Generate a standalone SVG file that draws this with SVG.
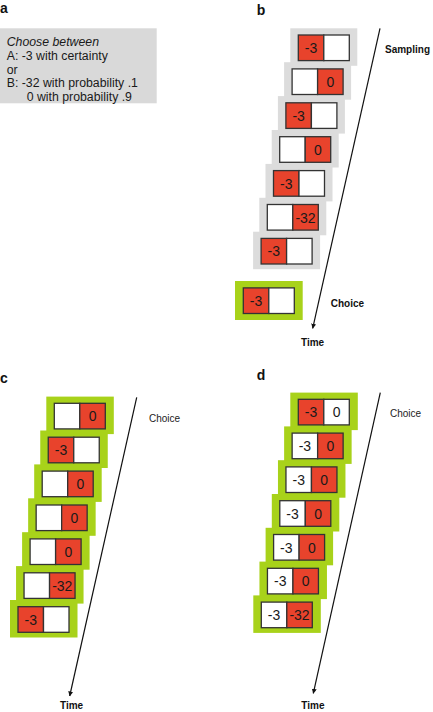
<svg xmlns="http://www.w3.org/2000/svg" width="433" height="712" viewBox="0 0 433 712">
<style>
.bgw{fill:#ffffff}
.plab{font-family:"Liberation Sans",Arial,sans-serif;font-weight:bold;font-size:14px;fill:#111}
.txt{font-family:"Liberation Sans",Arial,sans-serif;font-size:12.3px;fill:#1a1a1a}
.lbl{font-family:"Liberation Sans",Arial,sans-serif;font-size:10px;fill:#222}
.lblb{font-family:"Liberation Sans",Arial,sans-serif;font-size:10px;font-weight:bold;fill:#111}
.gray{fill:#dcdcdc}
.green{fill:#a8d21a}
.cell{stroke:#333;stroke-width:1.3}
.red{fill:#e8432c}
.wht{fill:#ffffff}
.num{font-family:"Liberation Sans",Arial,sans-serif;font-size:14px;fill:#1a1a1a;text-anchor:middle}
.axis{stroke:#111;stroke-width:1.2;fill:none}
</style>
<defs>
<marker id="arr" viewBox="0 0 10 10" refX="9" refY="5" markerWidth="5" markerHeight="5" orient="auto" markerUnits="userSpaceOnUse">
<path d="M0,0 L10,5 L0,10 Z" fill="#111"/>
</marker>
</defs>
<rect class="bgw" x="0" y="0" width="433" height="712"/>

<!-- Panel a -->
<g id="panel-a">
<text class="plab" x="0" y="13">a</text>
<rect x="0" y="28.3" width="156.7" height="75" fill="#d9d9d9"/>
<text class="txt" x="6.7" y="45.5" font-style="italic">Choose between</text>
<text class="txt" x="6.7" y="60">A: -3 with certainty</text>
<text class="txt" x="6.7" y="74">or</text>
<text class="txt" x="6.7" y="87.3">B: -32 with probability .1</text>
<text class="txt" x="26.7" y="100.5">0 with probability .9</text>
</g>

<!-- Panel labels and axis texts -->
<text class="plab" x="256.7" y="15">b</text>
<text class="plab" x="0" y="383">c</text>
<text class="plab" x="256.7" y="379.5">d</text>

<g id="connectors">
<line class="axis" x1="380" y1="28.3" x2="312.7" y2="328.3" marker-end="url(#arr)"/>
<line class="axis" x1="136.7" y1="397.3" x2="69.7" y2="696" marker-end="url(#arr)"/>
<line class="axis" x1="380.3" y1="392.7" x2="313.3" y2="693.3" marker-end="url(#arr)"/>
</g>

<text class="lblb" x="385" y="53">Sampling</text>
<text class="lblb" x="330.7" y="307.3">Choice</text>
<text class="lblb" x="301" y="345.5">Time</text>
<text class="lbl" x="149" y="421.7">Choice</text>
<text class="lblb" x="60" y="709">Time</text>
<text class="lbl" x="390" y="417.3">Choice</text>
<text class="lblb" x="301.3" y="709">Time</text>

<!-- Panel b cards -->
<g id="b1" transform="translate(298.3,35)"><rect class="gray" x="-8" y="-6.7" width="67" height="37.5"/><rect class="cell red" x="0" y="0" width="25.5" height="25.6"/><rect class="cell wht" x="25.5" y="0" width="25.5" height="25.6"/><text class="num" x="12.75" y="18">-3</text></g>
<g id="b2" transform="translate(292.1,68.9)"><rect class="gray" x="-8" y="-6.7" width="67" height="37.5"/><rect class="cell wht" x="0" y="0" width="25.5" height="25.6"/><rect class="cell red" x="25.5" y="0" width="25.5" height="25.6"/><text class="num" x="38.25" y="18">0</text></g>
<g id="b3" transform="translate(285.9,102.8)"><rect class="gray" x="-8" y="-6.7" width="67" height="37.5"/><rect class="cell red" x="0" y="0" width="25.5" height="25.6"/><rect class="cell wht" x="25.5" y="0" width="25.5" height="25.6"/><text class="num" x="12.75" y="18">-3</text></g>
<g id="b4" transform="translate(279.7,136.7)"><rect class="gray" x="-8" y="-6.7" width="67" height="37.5"/><rect class="cell wht" x="0" y="0" width="25.5" height="25.6"/><rect class="cell red" x="25.5" y="0" width="25.5" height="25.6"/><text class="num" x="38.25" y="18">0</text></g>
<g id="b5" transform="translate(273.5,170.6)"><rect class="gray" x="-8" y="-6.7" width="67" height="37.5"/><rect class="cell red" x="0" y="0" width="25.5" height="25.6"/><rect class="cell wht" x="25.5" y="0" width="25.5" height="25.6"/><text class="num" x="12.75" y="18">-3</text></g>
<g id="b6" transform="translate(267.3,204.5)"><rect class="gray" x="-8" y="-6.7" width="67" height="37.5"/><rect class="cell wht" x="0" y="0" width="25.5" height="25.6"/><rect class="cell red" x="25.5" y="0" width="25.5" height="25.6"/><text class="num" x="38.25" y="18">-32</text></g>
<g id="b7" transform="translate(261.1,238.4)"><rect class="gray" x="-8" y="-6.7" width="67" height="37.5"/><rect class="cell red" x="0" y="0" width="25.5" height="25.6"/><rect class="cell wht" x="25.5" y="0" width="25.5" height="25.6"/><text class="num" x="12.75" y="18">-3</text></g>
<g id="b-choice" transform="translate(243.3,287.9)"><rect class="green" x="-8.3" y="-6.9" width="67.7" height="39"/><rect class="cell red" x="0" y="0" width="25.5" height="25.6"/><rect class="cell wht" x="25.5" y="0" width="25.5" height="25.6"/><text class="num" x="12.75" y="18">-3</text></g>

<!-- Panel c cards -->
<g id="c1" transform="translate(54.3,403.3)"><rect class="green" x="-8" y="-6.7" width="67.5" height="37.5"/><rect class="cell wht" x="0" y="0" width="25.5" height="25.6"/><rect class="cell red" x="25.5" y="0" width="25.5" height="25.6"/><text class="num" x="38.25" y="18">0</text></g>
<g id="c2" transform="translate(48.25,437.2)"><rect class="green" x="-8" y="-6.7" width="67.5" height="37.5"/><rect class="cell red" x="0" y="0" width="25.5" height="25.6"/><rect class="cell wht" x="25.5" y="0" width="25.5" height="25.6"/><text class="num" x="12.75" y="18">-3</text></g>
<g id="c3" transform="translate(42.2,471.1)"><rect class="green" x="-8" y="-6.7" width="67.5" height="37.5"/><rect class="cell wht" x="0" y="0" width="25.5" height="25.6"/><rect class="cell red" x="25.5" y="0" width="25.5" height="25.6"/><text class="num" x="38.25" y="18">0</text></g>
<g id="c4" transform="translate(36.15,505)"><rect class="green" x="-8" y="-6.7" width="67.5" height="37.5"/><rect class="cell wht" x="0" y="0" width="25.5" height="25.6"/><rect class="cell red" x="25.5" y="0" width="25.5" height="25.6"/><text class="num" x="38.25" y="18">0</text></g>
<g id="c5" transform="translate(30.1,538.9)"><rect class="green" x="-8" y="-6.7" width="67.5" height="37.5"/><rect class="cell wht" x="0" y="0" width="25.5" height="25.6"/><rect class="cell red" x="25.5" y="0" width="25.5" height="25.6"/><text class="num" x="38.25" y="18">0</text></g>
<g id="c6" transform="translate(24.05,572.8)"><rect class="green" x="-8" y="-6.7" width="67.5" height="37.5"/><rect class="cell wht" x="0" y="0" width="25.5" height="25.6"/><rect class="cell red" x="25.5" y="0" width="25.5" height="25.6"/><text class="num" x="38.25" y="18">-32</text></g>
<g id="c7" transform="translate(18,606.7)"><rect class="green" x="-8" y="-6.7" width="67.5" height="37.5"/><rect class="cell red" x="0" y="0" width="25.5" height="25.6"/><rect class="cell wht" x="25.5" y="0" width="25.5" height="25.6"/><text class="num" x="12.75" y="18">-3</text></g>

<!-- Panel d cards -->
<g id="d1" transform="translate(298.3,399.3)"><rect class="green" x="-8" y="-6.7" width="67.5" height="37.5"/><rect class="cell red" x="0" y="0" width="25.5" height="25.6"/><rect class="cell wht" x="25.5" y="0" width="25.5" height="25.6"/><text class="num" x="12.75" y="18">-3</text><text class="num" x="38.25" y="18">0</text></g>
<g id="d2" transform="translate(292.13,433.1)"><rect class="green" x="-8" y="-6.7" width="67.5" height="37.5"/><rect class="cell wht" x="0" y="0" width="25.5" height="25.6"/><rect class="cell red" x="25.5" y="0" width="25.5" height="25.6"/><text class="num" x="12.75" y="18">-3</text><text class="num" x="38.25" y="18">0</text></g>
<g id="d3" transform="translate(285.96,466.9)"><rect class="green" x="-8" y="-6.7" width="67.5" height="37.5"/><rect class="cell wht" x="0" y="0" width="25.5" height="25.6"/><rect class="cell red" x="25.5" y="0" width="25.5" height="25.6"/><text class="num" x="12.75" y="18">-3</text><text class="num" x="38.25" y="18">0</text></g>
<g id="d4" transform="translate(279.8,500.7)"><rect class="green" x="-8" y="-6.7" width="67.5" height="37.5"/><rect class="cell wht" x="0" y="0" width="25.5" height="25.6"/><rect class="cell red" x="25.5" y="0" width="25.5" height="25.6"/><text class="num" x="12.75" y="18">-3</text><text class="num" x="38.25" y="18">0</text></g>
<g id="d5" transform="translate(273.6,534.5)"><rect class="green" x="-8" y="-6.7" width="67.5" height="37.5"/><rect class="cell wht" x="0" y="0" width="25.5" height="25.6"/><rect class="cell red" x="25.5" y="0" width="25.5" height="25.6"/><text class="num" x="12.75" y="18">-3</text><text class="num" x="38.25" y="18">0</text></g>
<g id="d6" transform="translate(267.45,568.3)"><rect class="green" x="-8" y="-6.7" width="67.5" height="37.5"/><rect class="cell wht" x="0" y="0" width="25.5" height="25.6"/><rect class="cell red" x="25.5" y="0" width="25.5" height="25.6"/><text class="num" x="12.75" y="18">-3</text><text class="num" x="38.25" y="18">0</text></g>
<g id="d7" transform="translate(261.3,602.1)"><rect class="green" x="-8" y="-6.7" width="67.5" height="37.5"/><rect class="cell wht" x="0" y="0" width="25.5" height="25.6"/><rect class="cell red" x="25.5" y="0" width="25.5" height="25.6"/><text class="num" x="12.75" y="18">-3</text><text class="num" x="38.25" y="18">-32</text></g>
</svg>
